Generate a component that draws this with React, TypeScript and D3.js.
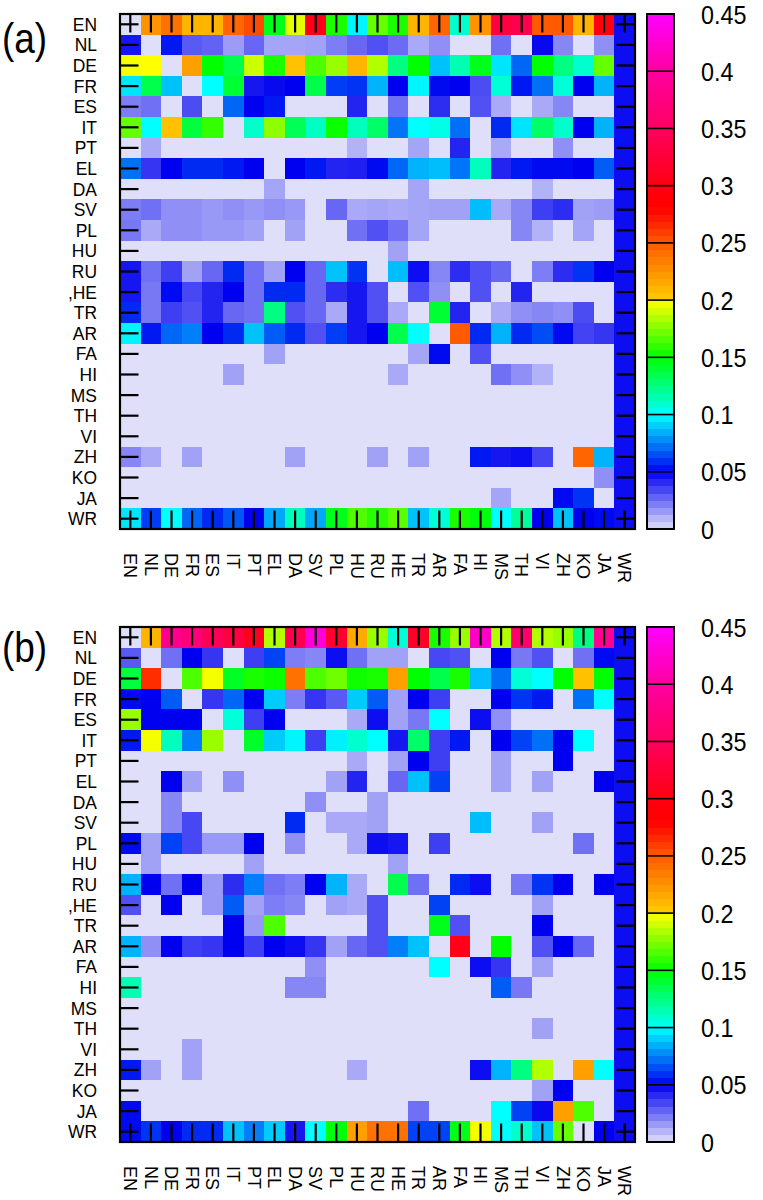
import React from 'react';
import * as d3 from 'd3';

const rowLabels = ['EN','NL','DE','FR','ES','IT','PT','EL','DA','SV','PL','HU','RU',',HE','TR','AR','FA','HI','MS','TH','VI','ZH','KO','JA','WR'];
const colLabels = ['EN','NL','DE','FR','ES','IT','PT','EL','DA','SV','PL','HU','RU','HE','TR','AR','FA','HI','MS','TH','VI','ZH','KO','JA','WR'];
const cbTicks = [0, 0.05, 0.1, 0.15, 0.2, 0.25, 0.3, 0.35, 0.4, 0.45];
const cbTickLabels = ['0', '0.05', '0.1', '0.15', '0.2', '0.25', '0.3', '0.35', '0.4', '0.45'];
const panelLetters = ['(a)', '(b)'];

const valuesA: number[][] = [
  [0, 0.225, 0.24, 0.21, 0.21, 0.245, 0.255, 0.145, 0.195, 0.305, 0.155, 0.098, 0.17, 0.155, 0.21, 0.245, 0.11, 0.225, 0.33, 0.34, 0.25, 0.25, 0.21, 0.3, 0.047],
  [0.045, 0, 0.055, 0.03, 0.028, 0.015, 0.027, 0.013, 0.013, 0.014, 0.022, 0.027, 0.032, 0.026, 0.012, 0.018, 0, 0, 0.025, 0, 0.048, 0.02, 0, 0.018, 0.047],
  [0.198, 0.2, 0, 0.22, 0.15, 0.135, 0.19, 0.155, 0.205, 0.165, 0.18, 0.21, 0.185, 0.125, 0.15, 0.088, 0.115, 0.145, 0.095, 0.07, 0.15, 0.125, 0.11, 0.17, 0.047],
  [0.095, 0.135, 0.088, 0, 0.1, 0.14, 0.045, 0.048, 0.05, 0.135, 0.062, 0.06, 0.085, 0.05, 0.098, 0.052, 0.05, 0.033, 0.108, 0.055, 0.072, 0.108, 0.05, 0.085, 0.047],
  [0.022, 0.025, 0, 0.033, 0, 0.07, 0.05, 0.055, 0, 0, 0, 0.042, 0, 0.025, 0, 0.04, 0, 0.032, 0.012, 0, 0.012, 0.02, 0, 0, 0.047],
  [0.17, 0.1, 0.205, 0.138, 0.16, 0, 0.11, 0.178, 0.133, 0.112, 0.152, 0.113, 0.13, 0.073, 0.1, 0.105, 0.072, 0, 0.058, 0.095, 0.13, 0.11, 0.05, 0.085, 0.047],
  [0, 0.012, 0, 0, 0, 0, 0, 0, 0, 0, 0, 0.01, 0, 0, 0.013, 0, 0.042, 0, 0.012, 0, 0, 0.018, 0, 0, 0.047],
  [0.072, 0.038, 0.05, 0.058, 0.058, 0.055, 0.05, 0, 0.05, 0.055, 0.042, 0.043, 0.052, 0.07, 0.085, 0.087, 0.073, 0.113, 0.042, 0.055, 0.052, 0.052, 0.05, 0.068, 0.047],
  [0, 0, 0, 0, 0, 0, 0, 0.013, 0, 0, 0, 0, 0, 0, 0.013, 0, 0, 0, 0, 0, 0.01, 0, 0, 0, 0.047],
  [0.022, 0.025, 0.018, 0.018, 0.016, 0.018, 0.016, 0.018, 0.016, 0, 0.027, 0.012, 0.013, 0.012, 0.013, 0.014, 0.014, 0.087, 0.012, 0.02, 0.036, 0.04, 0.014, 0.015, 0.047],
  [0.023, 0.012, 0.018, 0.018, 0.016, 0.016, 0.014, 0, 0.014, 0, 0, 0.025, 0.032, 0.025, 0.013, 0, 0, 0, 0, 0.02, 0.01, 0, 0.013, 0, 0.047],
  [0, 0, 0, 0, 0, 0, 0, 0, 0, 0, 0, 0, 0, 0.014, 0, 0, 0, 0, 0, 0, 0, 0, 0, 0, 0.047],
  [0.045, 0.025, 0.036, 0.014, 0.027, 0.058, 0.025, 0.014, 0.05, 0.027, 0.088, 0.06, 0, 0.087, 0.047, 0.02, 0.04, 0.032, 0.027, 0, 0.022, 0.04, 0.06, 0.05, 0.047],
  [0.045, 0.023, 0.052, 0.034, 0.042, 0.05, 0.025, 0.058, 0.058, 0.027, 0.04, 0.045, 0.032, 0, 0.032, 0.018, 0, 0.032, 0, 0.042, 0, 0, 0, 0, 0.047],
  [0.058, 0.023, 0.036, 0.032, 0.042, 0.027, 0.025, 0.125, 0.032, 0.027, 0.012, 0.045, 0.032, 0.012, 0, 0.14, 0.042, 0, 0.012, 0.018, 0.02, 0.018, 0.033, 0, 0.047],
  [0.098, 0.055, 0.07, 0.075, 0.05, 0.058, 0.088, 0.068, 0.058, 0.032, 0.062, 0.045, 0.05, 0.135, 0.1, 0, 0.25, 0.058, 0.085, 0.058, 0.065, 0.052, 0.035, 0.038, 0.047],
  [0, 0, 0, 0, 0, 0, 0, 0.014, 0, 0, 0, 0, 0, 0, 0.013, 0.052, 0, 0.032, 0, 0, 0, 0, 0, 0, 0.047],
  [0, 0, 0, 0, 0, 0.014, 0, 0, 0, 0, 0, 0, 0, 0.012, 0, 0, 0, 0, 0.025, 0.018, 0.01, 0, 0, 0, 0.047],
  [0, 0, 0, 0, 0, 0, 0, 0, 0, 0, 0, 0, 0, 0, 0, 0, 0, 0, 0, 0, 0, 0, 0, 0, 0.047],
  [0, 0, 0, 0, 0, 0, 0, 0, 0, 0, 0, 0, 0, 0, 0, 0, 0, 0, 0, 0, 0, 0, 0, 0, 0.047],
  [0, 0, 0, 0, 0, 0, 0, 0, 0, 0, 0, 0, 0, 0, 0, 0, 0, 0, 0, 0, 0, 0, 0, 0, 0.047],
  [0.02, 0.012, 0, 0.014, 0, 0, 0, 0, 0.014, 0, 0, 0, 0.014, 0, 0.014, 0, 0, 0.055, 0.045, 0.047, 0.035, 0, 0.245, 0.085, 0.047],
  [0, 0, 0, 0, 0, 0, 0, 0, 0, 0, 0, 0, 0, 0, 0, 0, 0, 0, 0, 0, 0, 0, 0, 0.018, 0.047],
  [0, 0, 0, 0, 0, 0, 0, 0, 0, 0, 0, 0, 0, 0, 0, 0, 0, 0, 0.013, 0, 0, 0.052, 0.06, 0, 0.047],
  [0.095, 0.062, 0.1, 0.07, 0.058, 0.067, 0.05, 0.083, 0.113, 0.083, 0.145, 0.165, 0.158, 0.168, 0.088, 0.108, 0.155, 0.148, 0.1, 0.12, 0.05, 0.088, 0.05, 0.052, 0.047],
];

const valuesB: number[][] = [
  [0, 0.21, 0.385, 0.37, 0.345, 0.33, 0.31, 0.185, 0.34, 0.43, 0.32, 0.215, 0.18, 0.108, 0.315, 0.155, 0.18, 0.42, 0.185, 0.36, 0.185, 0.18, 0.125, 0.39, 0.047],
  [0.03, 0, 0.025, 0.05, 0.038, 0, 0.036, 0.063, 0.022, 0.02, 0.047, 0.025, 0.014, 0.014, 0, 0.034, 0.032, 0, 0.05, 0.023, 0.032, 0, 0.025, 0.052, 0.047],
  [0.138, 0.265, 0, 0.165, 0.198, 0.143, 0.155, 0.152, 0.24, 0.165, 0.172, 0.153, 0.155, 0.22, 0.15, 0.135, 0.155, 0.087, 0.072, 0.108, 0.1, 0.15, 0.205, 0.15, 0.047],
  [0.052, 0.05, 0.068, 0, 0.038, 0.07, 0.05, 0.09, 0.022, 0.038, 0.03, 0.09, 0.068, 0.014, 0.05, 0.036, 0, 0, 0.05, 0.06, 0.055, 0, 0.072, 0.1, 0.047],
  [0.18, 0.05, 0.05, 0.05, 0, 0.107, 0.036, 0.05, 0, 0, 0, 0.012, 0.047, 0.014, 0.023, 0.1, 0, 0.047, 0.018, 0, 0, 0, 0, 0, 0.047],
  [0.055, 0.198, 0.113, 0.075, 0.18, 0, 0.142, 0.09, 0.098, 0.036, 0.097, 0.11, 0.1, 0.045, 0.13, 0.036, 0.055, 0, 0.05, 0.063, 0.072, 0.05, 0.1, 0, 0.047],
  [0, 0, 0, 0, 0, 0, 0, 0, 0, 0, 0, 0.012, 0, 0.014, 0.05, 0.036, 0, 0, 0.014, 0, 0, 0.05, 0, 0, 0.047],
  [0, 0, 0.05, 0.014, 0, 0.018, 0, 0, 0, 0, 0.014, 0.042, 0, 0.027, 0.088, 0.063, 0, 0, 0.014, 0, 0.014, 0, 0, 0.05, 0.047],
  [0, 0, 0.02, 0, 0, 0, 0, 0, 0, 0.018, 0, 0, 0.014, 0, 0, 0, 0, 0, 0, 0, 0, 0, 0, 0, 0.047],
  [0, 0, 0.02, 0.034, 0, 0, 0, 0, 0.058, 0, 0.012, 0.012, 0.014, 0, 0, 0, 0, 0.087, 0, 0, 0.014, 0, 0, 0, 0.047],
  [0.052, 0.014, 0.063, 0.034, 0.016, 0.016, 0.05, 0, 0.018, 0, 0, 0.012, 0.047, 0.045, 0, 0.036, 0, 0, 0, 0, 0, 0, 0.025, 0, 0.047],
  [0, 0.014, 0, 0, 0, 0, 0.014, 0, 0, 0, 0, 0, 0, 0.014, 0, 0, 0, 0, 0, 0, 0, 0, 0, 0, 0.047],
  [0.085, 0.05, 0.025, 0.05, 0.016, 0.04, 0.075, 0.025, 0.022, 0.05, 0.085, 0.012, 0, 0.135, 0.025, 0, 0.058, 0.047, 0, 0.023, 0.06, 0.05, 0, 0.05, 0.047],
  [0.032, 0, 0.05, 0, 0.016, 0.068, 0.014, 0.022, 0.02, 0, 0.014, 0.012, 0.032, 0, 0, 0.063, 0, 0, 0, 0, 0.014, 0, 0, 0, 0.047],
  [0, 0, 0, 0, 0, 0.05, 0.016, 0.165, 0, 0, 0, 0, 0.032, 0, 0, 0.145, 0.032, 0, 0, 0, 0.05, 0, 0, 0, 0.047],
  [0.085, 0.018, 0.05, 0.036, 0.038, 0.05, 0.036, 0.05, 0.047, 0.038, 0.014, 0.027, 0.032, 0.075, 0.088, 0, 0.305, 0, 0.15, 0, 0.032, 0.05, 0.027, 0, 0.047],
  [0, 0, 0, 0, 0, 0, 0, 0, 0, 0.018, 0, 0, 0, 0, 0, 0.1, 0, 0.047, 0.038, 0, 0.014, 0, 0, 0, 0.047],
  [0.115, 0, 0, 0, 0, 0, 0, 0, 0.02, 0.02, 0, 0, 0, 0, 0, 0, 0, 0, 0.068, 0.023, 0, 0, 0, 0, 0.047],
  [0, 0, 0, 0, 0, 0, 0, 0, 0, 0, 0, 0, 0, 0, 0, 0, 0, 0, 0, 0, 0, 0, 0, 0, 0.047],
  [0, 0, 0, 0, 0, 0, 0, 0, 0, 0, 0, 0, 0, 0, 0, 0, 0, 0, 0, 0, 0.014, 0, 0, 0, 0.047],
  [0, 0, 0, 0.014, 0, 0, 0, 0, 0, 0, 0, 0, 0, 0, 0, 0, 0, 0, 0, 0, 0, 0, 0, 0, 0.047],
  [0.055, 0.014, 0, 0.014, 0, 0, 0, 0, 0, 0, 0, 0.012, 0, 0, 0, 0, 0, 0.047, 0.085, 0.125, 0.185, 0, 0.22, 0.1, 0.047],
  [0, 0, 0, 0, 0, 0, 0, 0, 0, 0, 0, 0, 0, 0, 0, 0, 0, 0, 0, 0, 0.014, 0.05, 0, 0, 0.047],
  [0.052, 0, 0, 0, 0, 0, 0, 0, 0, 0, 0, 0, 0, 0, 0.025, 0, 0, 0, 0.1, 0.063, 0.048, 0.22, 0.165, 0, 0.047],
  [0.052, 0.06, 0.05, 0.058, 0.058, 0.088, 0.075, 0.09, 0.045, 0.1, 0.148, 0.22, 0.24, 0.24, 0.063, 0.063, 0.145, 0.198, 0.1, 0.11, 0.088, 0.17, 0, 0.05, 0.047],
];

const colorStops = [0, 0.05, 0.1, 0.15, 0.2, 0.2001, 0.25, 0.28, 0.3, 0.35, 0.4, 0.45];
const colorRange = ['#dfdff9', '#0000f0', '#00ffff', '#00ff00', '#ffff00', '#ffcc00', '#ff5a00', '#ff0000', '#ff0010', '#ff0060', '#ff00a0', '#ff00ff'];

const FONT = '"Liberation Sans", Arial, Helvetica, sans-serif';
const plotLeft = 120;
const plotRight = 635;
const plotSize = 515;
const cbLeft = 647;
const cbRight = 674;
const cbLabelX = 701;
const tickLen = 18.5;
const panels = [
  { values: valuesA, top: 14, letterY: 53 },
  { values: valuesB, top: 627, letterY: 662 },
];

const color = d3.scaleLinear<string>().domain(colorStops).range(colorRange).interpolate(d3.interpolateRgb).clamp(true);

function Panel({ values, top, letterY, letter }: { values: number[][]; top: number; letterY: number; letter: string }) {
  const idx = d3.range(colLabels.length);
  const x = d3.scaleBand<number>().domain(idx).range([plotLeft, plotRight]);
  const y = d3.scaleBand<number>().domain(d3.range(rowLabels.length)).range([top, top + plotSize]);
  const bw = x.bandwidth();
  const bh = y.bandwidth();
  const bottom = top + plotSize;
  const cb = d3.scaleLinear().domain([0, 0.45]).range([bottom, top]);
  const nStripes = 72;
  const stripes = d3.range(nStripes).map((k) => [(k * 0.45) / nStripes, ((k + 1) * 0.45) / nStripes]);

  return (
    <g>
      <g transform={`translate(2, ${letterY}) scale(0.88, 1)`}>
        <text x={0} y={0} fontSize={42} fontFamily={FONT} fill="#000">{letter}</text>
      </g>
      {values.map((row, i) =>
        row.map((v, j) => (
          <rect key={`${i}-${j}`} x={x(j)} y={y(i)} width={bw + 0.4} height={bh + 0.4} fill={color(v)} shapeRendering="crispEdges" />
        ))
      )}
      {rowLabels.map((_, i) => (
        <g key={`lt${i}`}>
          <line x1={plotLeft} x2={plotLeft + tickLen} y1={y(i)! + bh / 2} y2={y(i)! + bh / 2} stroke="#000" strokeWidth={2.2} />
          <line x1={plotRight - tickLen} x2={plotRight} y1={y(i)! + bh / 2} y2={y(i)! + bh / 2} stroke="#000" strokeWidth={2.2} />
        </g>
      ))}
      {colLabels.map((_, j) => (
        <g key={`ct${j}`}>
          <line x1={x(j)! + bw / 2} x2={x(j)! + bw / 2} y1={top} y2={top + tickLen} stroke="#000" strokeWidth={2.2} />
          <line x1={x(j)! + bw / 2} x2={x(j)! + bw / 2} y1={bottom - tickLen} y2={bottom} stroke="#000" strokeWidth={2.2} />
        </g>
      ))}
      <rect x={plotLeft} y={top} width={plotRight - plotLeft} height={plotSize} fill="none" stroke="#000" strokeWidth={2.2} />
      {rowLabels.map((lab, i) => (
        <g key={`rl${i}`} transform={`translate(97, ${y(i)! + bh / 2}) scale(0.97, 1)`}>
          <text x={0} y={0} dy="0.36em" textAnchor="end" fontSize={18} fontFamily={FONT} fill="#000">{lab}</text>
        </g>
      ))}
      {colLabels.map((lab, j) => (
        <g key={`cl${j}`} transform={`translate(${x(j)! + bw / 2}, ${bottom + 24}) rotate(90)`}>
          <text x={0} y={0} dy="0.35em" textAnchor="start" fontSize={18} fontFamily={FONT} fill="#000">{lab}</text>
        </g>
      ))}
      {stripes.map(([a, b], k) => (
        <rect key={`s${k}`} x={cbLeft} y={cb(b)} width={cbRight - cbLeft} height={cb(a) - cb(b) + 0.3} fill={color((a + b) / 2)} shapeRendering="crispEdges" />
      ))}
      {cbTicks.slice(1, -1).map((t) => (
        <line key={`cbt${t}`} x1={cbLeft} x2={cbRight} y1={cb(t)} y2={cb(t)} stroke="#000" strokeWidth={1.6} />
      ))}
      <rect x={cbLeft} y={top} width={cbRight - cbLeft} height={plotSize} fill="none" stroke="#000" strokeWidth={2} />
      {cbTicks.map((t, k) => (
        <g key={`cbl${k}`} transform={`translate(${cbLabelX}, ${cb(t)}) scale(0.88, 1)`}>
          <text x={0} y={0} dy="0.36em" fontSize={26.5} fontFamily={FONT} fill="#000">{cbTickLabels[k]}</text>
        </g>
      ))}
    </g>
  );
}

export default function App() {
  return (
    <svg width={763} height={1200} viewBox="0 0 763 1200" style={{ position: 'absolute', left: 0, top: 0, background: '#fff' }}>
      <rect x={0} y={0} width={763} height={1200} fill="#fff" />
      {panels.map((p, k) => (
        <Panel key={k} values={p.values} top={p.top} letterY={p.letterY} letter={panelLetters[k]} />
      ))}
    </svg>
  );
}
